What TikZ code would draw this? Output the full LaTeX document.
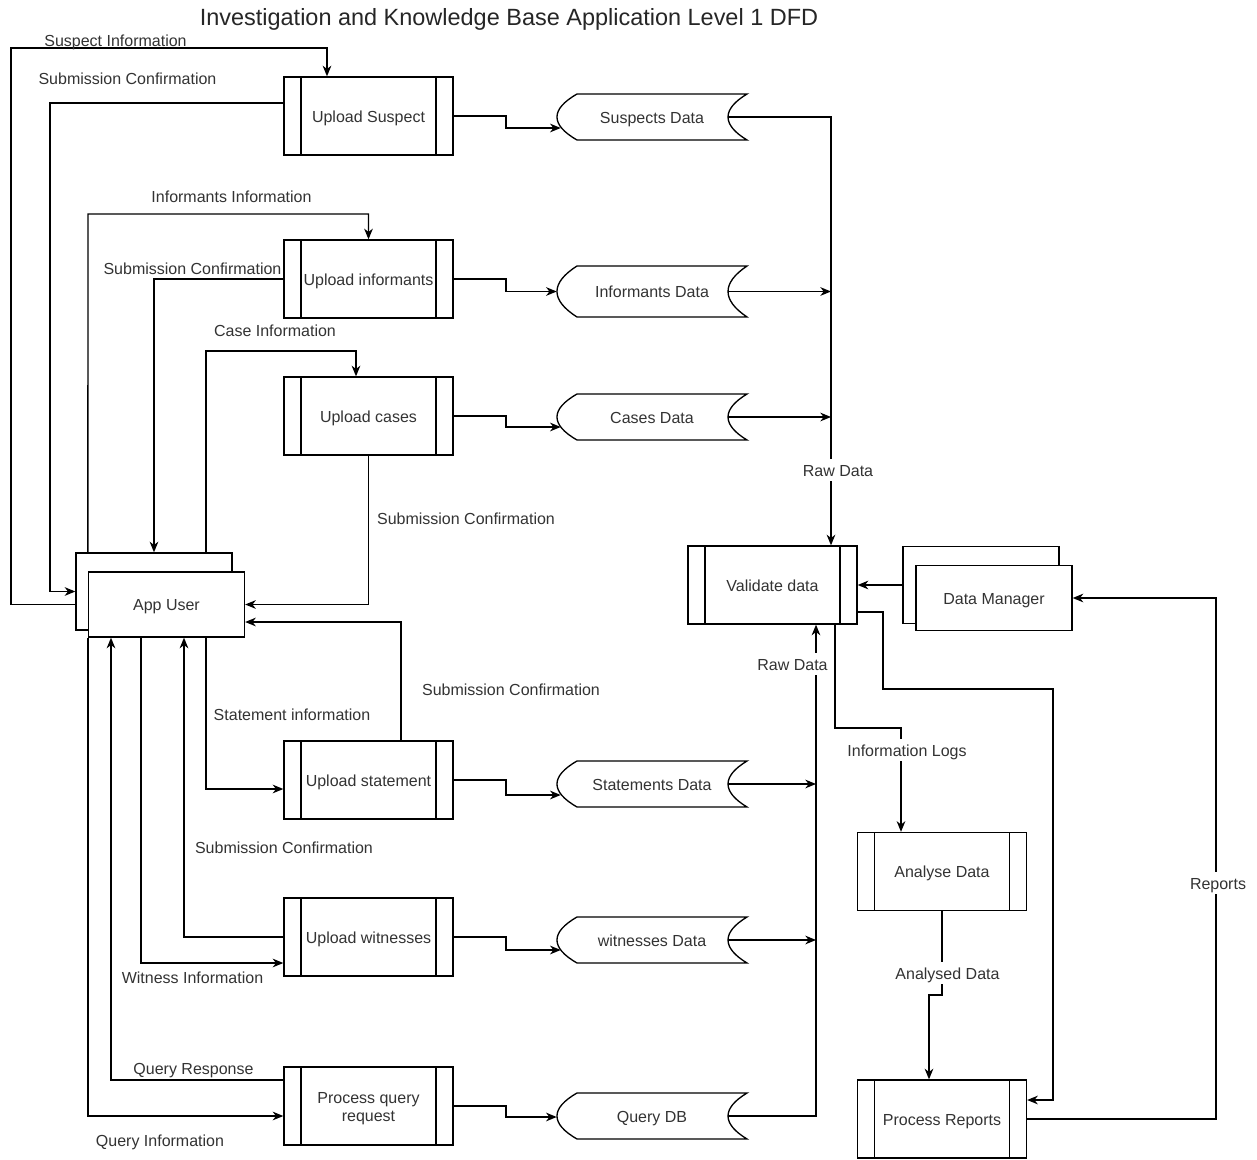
\documentclass[tikz,border=0pt]{standalone}
\usepackage{fontspec}
\setmainfont{Liberation Sans}
\usetikzlibrary{arrows.meta,calc}

% data store: open-ended shape with a convex left side and a concave right side
% (both sides are parabolic arcs)
% #1 name, #2 top y, #3 bottom y, #4 text
\newcommand{\dstore}[4]{%
  \pgfmathsetmacro{\dsmid}{(#2+#3)/2}%
  \pgfmathsetmacro{\dst}{(#3-#2)/3}%
  \pgfmathsetmacro{\dsh}{(#3-#2)*0.75}%
  \node[store, minimum height=\dsh pt] (#1) at (652,\dsmid) {#4};%
  \coordinate (#1-in) at (728,\dsmid);%
  \draw[line] (577,#2) -- (747,#2)
    .. controls (721.7,#2+\dst) and (721.7,#3-\dst) .. (747,#3)
    -- (577,#3)
    .. controls (550.3,#3-\dst) and (550.3,#2+\dst) .. (577,#2) -- cycle;%
}

\tikzset{
  line/.style={draw=black, line width=1pt},
  flow/.style={line, -{Stealth[length=8pt,width=6.5pt,inset=2.5pt]}},
  txt/.style={font=\fontsize{12}{13.5}\selectfont, text=black!80,
    text height=11.6pt, text depth=2.5pt},
  lbl/.style={txt, inner sep=1pt},
  onl/.style={lbl, fill=white},
  title/.style={font=\fontsize{17.6}{20}\selectfont, text=black!85, inner sep=0pt},
  proc/.style={line, fill=white, txt, minimum width=126.75pt, minimum height=58.5pt,
    inner sep=0pt, align=center,
    path picture={
      \draw[line] ([xshift=12.75pt]path picture bounding box.north west) --
                  ([xshift=12.75pt]path picture bounding box.south west);
      \draw[line] ([xshift=-12.75pt]path picture bounding box.north east) --
                  ([xshift=-12.75pt]path picture bounding box.south east);
    }},
  ent/.style={line, fill=white, txt, minimum width=117pt, inner sep=0pt},
  store/.style={txt, minimum width=142.5pt, inner sep=0pt},
}

\begin{document}
\begin{tikzpicture}[x=0.75pt,y=-0.75pt]
\fill[white] (0,0) rectangle (1257,1160);
\useasboundingbox (0,0) rectangle (1257,1160);

\node[title] (title) at (509,19) {Investigation and Knowledge Base Application Level 1 DFD};

% processes
\node[proc] (pSus) at (368.5,116) {Upload Suspect};
\node[proc] (pInf) at (368.5,279) {Upload informants};
\node[proc] (pCas) at (368.5,416) {Upload cases};
\node[proc] (pSta) at (368.5,780) {Upload statement};
\node[proc] (pWit) at (368.5,937) {Upload witnesses};
\node[proc] (pQry) at (368.5,1106) {};
\node[txt, align=center, text height=, text depth=, inner sep=0pt] (pQryT) at (368.5,1109)
  {Process query\\request};
\node[proc] (pVal) at (772.5,585) {Validate data};
\node[proc] (pAna) at (942,871.5) {Analyse Data};
\node[proc] (pRep) at (942,1119) {Process Reports};

% external entities
\node[ent, minimum height=57.75pt] (uBack) at (154,591.5) {};
\node[ent, minimum height=48.75pt] (user) at (166.5,604.5) {App User};
\node[ent, minimum height=57.75pt] (dmBack) at (981,585) {};
\node[ent, minimum height=48.75pt] (dm) at (994,598) {Data Manager};

% data stores
\dstore{sSus}{94}{140}{Suspects Data}
\dstore{sInf}{266}{317}{Informants Data}
\dstore{sCas}{394}{440}{Cases Data}
\dstore{sSta}{761}{807}{Statements Data}
\dstore{sWit}{917}{963}{witnesses Data}
\dstore{sQry}{1093}{1139}{Query DB}

% junctions on the raw data buses
\coordinate (busInf) at (831,291.5);
\coordinate (busCas) at (831,417);
\coordinate (busSta) at (816,784);
\coordinate (busWit) at (816,940);

% app user <-> upload processes
\draw[flow] (uBack.west |- user.west) -- (11,604.5) |- (327,48) -- ($(pSus.north)+(-41.5,0)$);
\draw[flow] ($(pSus.west)+(0,-13)$) -- (50,103) |- (uBack.west);
\draw[flow] (user.north west |- uBack.north) -- (88,214) -| (pInf.north);
\draw[flow] (pInf.west) -| (uBack.north);
\draw[flow] ($(uBack.north)+(52,0)$) -- (206,351) -| ($(pCas.north)+(-12.5,0)$);
\draw[flow] (pCas.south) |- (user.east);
\draw[flow] ($(pSta.north)+(32.5,0)$) |- ($(user.east)+(0,17.5)$);
\draw[flow] ($(user.south)+(39.5,0)$) |- ($(pSta.west)+(0,9)$);
\draw[flow] (pWit.west) -| ($(user.south)+(17.5,0)$);
\draw[flow] ($(user.south)+(-25.5,0)$) |- ($(pWit.west)+(0,26)$);
\draw[flow] ($(pQry.west)+(0,-26)$) -| ($(user.south)+(-55.5,0)$);
\draw[flow] (user.south west) |- ($(pQry.west)+(0,10)$);

% processes -> data stores
\draw[flow] (pSus.east) -- (506,116) |- ($(sSus.west)+(4,11)$);
\draw[flow] (pInf.east) -- (506,279) |- (sInf.west);
\draw[flow] (pCas.east) -- (506,416) |- ($(sCas.west)+(4,10)$);
\draw[flow] (pSta.east) -- (506,780) |- ($(sSta.west)+(4,11)$);
\draw[flow] (pWit.east) -- (506,937) |- ($(sWit.west)+(4,10)$);
\draw[flow] (pQry.east) -- (506,1106) |- ($(sQry.west)+(0,1)$);

% data stores -> validation
\draw[flow] (sSus-in) -| ($(pVal.north)+(58.5,0)$);
\draw[flow] (sInf-in) -- (busInf);
\draw[flow] (sCas-in) -- (busCas);
\draw[flow] (sQry-in) -| ($(pVal.south)+(43.5,0)$);
\draw[flow] (sSta-in) -- (busSta);
\draw[flow] (sWit-in) -- (busWit);

% validation, analysis and reporting
\draw[flow] (dmBack.west) -- (pVal.east);
\draw[flow] ($(pVal.south)+(62.5,0)$) -- (835,728) -| ($(pAna.north)+(-41,0)$);
\draw[flow] ($(pVal.east)+(0,27)$) -- (883,612) |- (1053,689) |- ($(pRep.east)+(0,-19)$);
\draw[flow] (pAna.south) -- (942,995) -| ($(pRep.north)+(-13,0)$);
\draw[flow] (pRep.east) -- (1216,1119) |- (dm.east);

% flow labels
\node[lbl] (lSusIn)  at (115.5,40)  {Suspect Information};
\node[lbl] (lSusOut) at (127.5,78)  {Submission Confirmation};
\node[lbl] (lInfIn)  at (231.5,196) {Informants Information};
\node[lbl] (lInfOut) at (192.5,268) {Submission Confirmation};
\node[lbl] (lCasIn)  at (275,330)   {Case Information};
\node[lbl] (lCasOut) at (466,518)   {Submission Confirmation};
\node[lbl] (lStaOut) at (511,689)   {Submission Confirmation};
\node[lbl] (lStaIn)  at (292,714)   {Statement information};
\node[lbl] (lWitOut) at (284,847)   {Submission Confirmation};
\node[lbl] (lWitIn)  at (192.5,977) {Witness Information};
\node[lbl] (lQryOut) at (193.5,1068){Query Response};
\node[lbl] (lQryIn)  at (160,1140)  {Query Information};
\node[onl] (lRawT)   at (838,470)   {Raw Data};
\node[onl] (lRawB)   at (792.5,664) {Raw Data};
\node[onl] (lLogs)   at (907,750)   {Information Logs};
\node[onl] (lAna)    at (947.5,973) {Analysed Data};
\node[onl] (lRep)    at (1218,883)  {Reports};
\end{tikzpicture}
\end{document}
